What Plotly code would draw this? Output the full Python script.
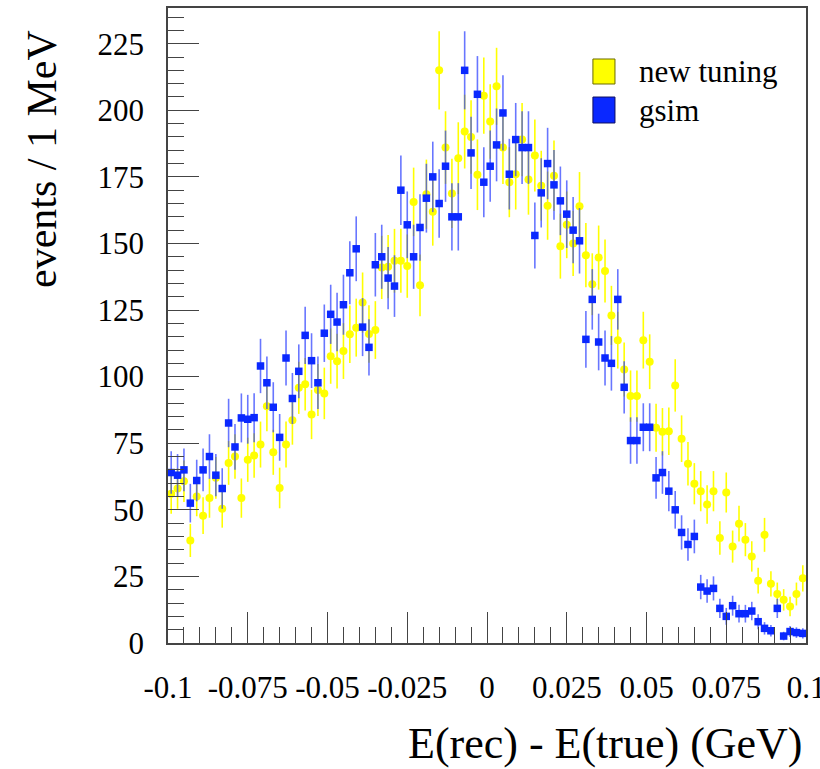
import numpy as np
import plotly.graph_objects as go

# ---- data (100 bins, 2 MeV wide, from -0.1 to 0.1 GeV) ----
bin_lo, bin_hi, n_bins = -0.1, 0.1, 100

new_tuning = [
    56, 58, 60.7, 38.5, 55, 47.8, 54.4, 62, 50.4, 67.6,
    70, 54.4, 68.8, 70.4, 74.5, 88.9, 71.6, 58.2, 74.5, 83.6,
    95.8, 97.1, 85.8, 95, 93.7, 107.7, 105.8, 109.6, 115.9, 118.4,
    127.8, 116, 117.5, 141, 141.3, 143.5, 143.5, 141.5, 165.6, 134.3,
    168.5, 161.9, 215, 186, 168.8, 182, 192, 190, 175.8, 205.5,
    195.8, 209, 186, 173, 176, 189, 174, 183, 171.7, 164.2,
    175.4, 149, 157, 150, 164, 145.6, 134.7, 144.7, 139.7, 123,
    113.7, 102.7, 92.7, 92.7, 113.7, 105.6, 80.8, 79.3, 79.5, 96.7,
    76.7, 67.3, 59.8, 57, 52, 57, 39.4, 56.5, 36.2, 44.8,
    38.8, 32.5, 23.4, 40.6, 22.2, 18.4, 16.2, 13.7, 18.4, 24.3,
]

gsim = [
    64, 63, 65, 52.5, 61, 65, 70, 63, 58, 82.6,
    73.6, 84.5, 84, 84.6, 104, 97.7, 88.5, 77.2, 107, 91.8,
    102, 115.5, 106, 97.7, 116.3, 123.4, 120.5, 127, 139, 148,
    118.6, 111, 142, 145, 137, 134, 170, 157, 145, 156,
    167, 175, 165, 179, 160, 160, 215, 184, 206, 173,
    179, 187, 199, 176, 189, 186, 186, 153, 169, 180,
    172, 166, 161, 155, 151, 114, 129, 113, 107, 105,
    129, 96, 76, 76, 81, 81, 62, 64, 57, 50,
    41.5, 37, 40, 21, 19.5, 20.5, 13, 10, 14, 11,
    11, 12, 8, 5.5, 4.6, 13, 2.6, 4.3, 3.9, 3.6,
]

x_tickvals = [-0.1, -0.075, -0.05, -0.025, 0, 0.025, 0.05, 0.075, 0.1]
x_ticktext = ["-0.1", "-0.075", "-0.05", "-0.025", "0", "0.025", "0.05", "0.075", "0.1"]
y_tickvals = [0, 25, 50, 75, 100, 125, 150, 175, 200, 225]
y_ticktext = ["0", "25", "50", "75", "100", "125", "150", "175", "200", "225"]

series_names = ["new tuning", "gsim"]

# ---- derived ----
edges = np.linspace(bin_lo, bin_hi, n_bins + 1)
centers = 0.5 * (edges[:-1] + edges[1:])
half_w = 0.5 * (edges[1] - edges[0])
y_new = np.array(new_tuning, dtype=float)
y_gsim = np.array(gsim, dtype=float)

YELLOW = "#ffff00"
BLUE = "#0a28ff"
FONT = "Liberation Serif, Times New Roman, serif"

fig = go.Figure()
fig.add_trace(go.Scatter(
    x=centers, y=y_new, mode="markers", name=series_names[0], showlegend=False,
    marker=dict(symbol="circle", size=8, color=YELLOW, line=dict(width=0)),
    error_y=dict(type="data", array=np.sqrt(y_new), color=YELLOW, thickness=1.6, width=0),
    error_x=dict(type="constant", value=half_w, color=YELLOW, thickness=1.2, width=0),
))
fig.add_trace(go.Scatter(
    x=centers, y=y_gsim, mode="markers", name=series_names[1], showlegend=False,
    marker=dict(symbol="square", size=7.5, color=BLUE, line=dict(width=0)),
    error_y=dict(type="data", array=np.sqrt(y_gsim), color="rgba(40,60,255,0.7)", thickness=1.6, width=0),
    error_x=dict(type="constant", value=half_w, color="rgba(40,60,255,0.7)", thickness=1.2, width=0),
))

axis_common = dict(
    showgrid=False, zeroline=False, showline=True, linecolor="#444", linewidth=1.5,
    mirror=True, ticks="inside", tickcolor="#444", tickwidth=1.3,
    tickfont=dict(family=FONT, size=31, color="black"), ticklabelstandoff=16,
    ticklabeloverflow="allow", automargin=False,
)

fig.update_xaxes(
    range=[bin_lo, bin_hi], tickvals=x_tickvals, ticktext=x_ticktext, tickangle=0,
    ticklen=31,
    minor=dict(dtick=0.005, tick0=0, ticks="inside", ticklen=16, tickcolor="#444", tickwidth=1.3),
    **axis_common,
)
fig.update_yaxes(
    range=[0, 238.4], tickvals=y_tickvals, ticktext=y_ticktext,
    ticklen=31,
    minor=dict(dtick=5, tick0=0, ticks="inside", ticklen=16, tickcolor="#444", tickwidth=1.3),
    **axis_common,
)

# legend (ROOT-style filled boxes)
shapes = [
    dict(type="rect", xref="paper", yref="paper", x0=0.666, x1=0.7006, y0=0.8803, y1=0.9197,
         fillcolor=YELLOW, line=dict(color="#6b6b00", width=1)),
    dict(type="rect", xref="paper", yref="paper", x0=0.666, x1=0.7006, y0=0.8189, y1=0.8598,
         fillcolor=BLUE, line=dict(color="#101060", width=1)),
]
annotations = [
    dict(text=series_names[0], xref="paper", yref="paper", x=0.735, y=0.900,
         xanchor="left", yanchor="middle", showarrow=False,
         font=dict(family=FONT, size=31, color="black")),
    dict(text=series_names[1], xref="paper", yref="paper", x=0.735, y=0.838,
         xanchor="left", yanchor="middle", showarrow=False,
         font=dict(family=FONT, size=31, color="black")),
    dict(text="E(rec) - E(true) (GeV)", xref="paper", yref="paper", x=0.9984, y=-0.1575,
         xanchor="right", yanchor="middle", showarrow=False,
         font=dict(family=FONT, size=44, color="black")),
    dict(text="events / 1 MeV", xref="paper", yref="paper", x=-0.1975, y=0.9685,
         xanchor="center", yanchor="top", textangle=-90, showarrow=False,
         font=dict(family=FONT, size=42, color="black")),
]

fig.update_layout(
    width=820, height=769,
    margin=dict(l=168, r=14, t=8, b=126, autoexpand=False),
    paper_bgcolor="white", plot_bgcolor="white",
    shapes=shapes, annotations=annotations,
    showlegend=False,
)

fig.write_html("out.html")
